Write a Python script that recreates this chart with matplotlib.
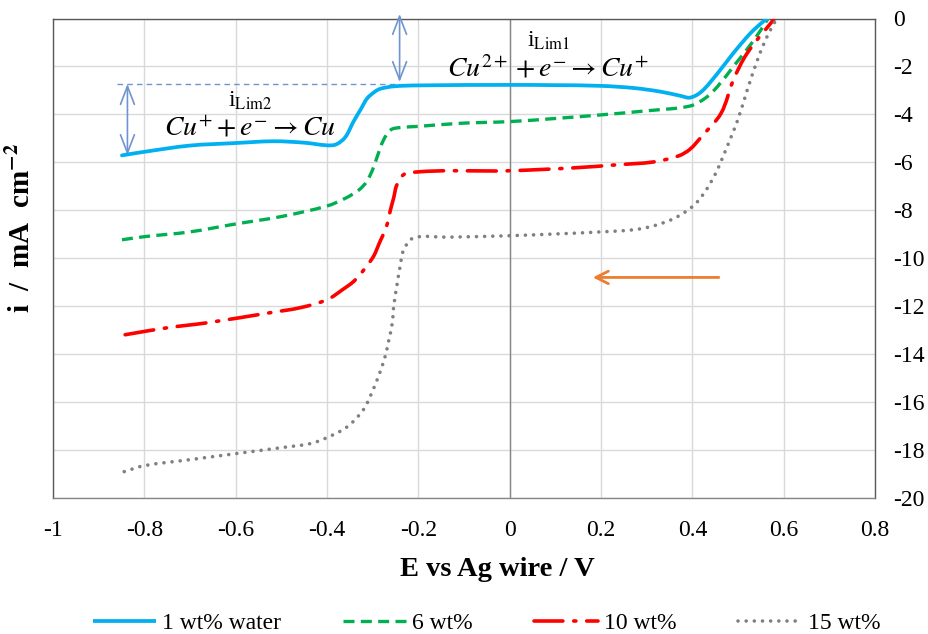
import matplotlib
matplotlib.use("Agg")
import matplotlib.pyplot as plt
import numpy as np
from matplotlib.path import Path
from matplotlib.patches import PathPatch
from matplotlib.lines import Line2D

plt.rcParams['font.family'] = ['Liberation Serif', 'DejaVu Serif']
plt.rcParams['mathtext.fontset'] = 'stix'
plt.rcParams['axes.unicode_minus'] = False

# ---- data ----
labels = ["1 wt% water", "6 wt%", "10 wt%", "15 wt%"]

x_1 = [-0.849, -0.80, -0.70, -0.605, -0.517, -0.45, -0.40, -0.38, -0.36, -0.342, -0.325,
       -0.312, -0.295, -0.283, -0.254, -0.20, 0.0, 0.10, 0.20, 0.272, 0.33, 0.375, 0.395,
       0.42, 0.456, 0.49, 0.528, 0.557, 0.566]
y_1 = [-5.71, -5.56, -5.30, -5.20, -5.12, -5.18, -5.29, -5.25, -4.95, -4.30, -3.75,
       -3.33, -3.05, -2.93, -2.83, -2.79, -2.77, -2.78, -2.81, -2.90, -3.05, -3.23, -3.30,
       -3.05, -2.27, -1.44, -0.60, -0.10, 0.0]

x_6 = [-0.849, -0.80, -0.70, -0.60, -0.50, -0.40, -0.36, -0.33, -0.313, -0.30,
       -0.29, -0.276, -0.26, -0.24, -0.20, -0.107, 0.0, 0.10, 0.20, 0.30, 0.395, 0.43,
       0.455, 0.49, 0.535, 0.566]
y_6 = [-9.23, -9.10, -8.90, -8.57, -8.26, -7.82, -7.50, -7.15, -6.80, -6.30,
       -5.76, -5.06, -4.64, -4.55, -4.50, -4.37, -4.30, -4.17, -4.02, -3.85, -3.65, -3.30,
       -2.84, -2.00, -0.90, 0.0]

x_10 = [-0.842, -0.75, -0.662, -0.524, -0.458, -0.40, -0.366, -0.338, -0.30, -0.285,
        -0.27, -0.261, -0.254, -0.246, -0.224, 0.0, 0.14, 0.236, 0.316, 0.37, 0.395,
        0.42, 0.463, 0.49, 0.52, 0.58]
y_10 = [-13.19, -12.90, -12.69, -12.27, -12.06, -11.73, -11.31, -10.90, -9.98, -9.35,
        -8.69, -7.98, -7.48, -6.90, -6.44, -6.35, -6.23, -6.10, -5.98, -5.73, -5.45,
        -4.93, -3.95, -2.56, -1.45, 0.0]

x_15 = [-0.844, -0.80, -0.70, -0.60, -0.50, -0.436, -0.40, -0.355, -0.32, -0.304, -0.294,
        -0.283, -0.272, -0.265, -0.257, -0.254, -0.246, -0.24, -0.232, -0.21, -0.136, 0.0,
        0.20, 0.287, 0.353, 0.40, 0.425, 0.45, 0.475, 0.50, 0.52, 0.545, 0.565, 0.585]
y_15 = [-18.90, -18.65, -18.40, -18.15, -17.90, -17.73, -17.48, -17.02, -16.31, -15.70, -15.25,
        -14.70, -14.05, -13.45, -12.70, -12.02, -11.02, -10.35, -9.65, -9.15, -9.12, -9.06,
        -8.90, -8.77, -8.40, -7.85, -7.30, -6.50, -5.40, -4.20, -3.00, -1.60, -0.70, 0.0]

x_ticks = [-1, -0.8, -0.6, -0.4, -0.2, 0, 0.2, 0.4, 0.6, 0.8]
x_ticklabels = ["-1", "-0.8", "-0.6", "-0.4", "-0.2", "0", "0.2", "0.4", "0.6", "0.8"]
y_ticks = [0, -2, -4, -6, -8, -10, -12, -14, -16, -18, -20]

# annotation values
ilim_level = -2.73      # dashed reference level
ilim2_bottom = -5.7
ilim1_top = 0.19
sweep_from, sweep_to, sweep_y = 0.458, 0.182, -10.8

# ---- figure ----
W, H = 929, 634
fig = plt.figure(figsize=(W / 100, H / 100), dpi=100)
ax = fig.add_axes([53 / W, 1 - 498 / H, (875 - 53) / W, (498 - 18.5) / H])
ax.set_xlim(-1, 0.8)
ax.set_ylim(-20, 0)

ax.set_xticks(x_ticks)
ax.set_xticklabels(x_ticklabels)
ax.set_yticks(y_ticks)
ax.yaxis.tick_right()
ax.tick_params(axis='both', length=0, labelsize=17, colors='black')
ax.tick_params(axis='y', pad=13)
ax.tick_params(axis='x', pad=16)
ax.grid(True, color='#d9d9d9', linewidth=1.0)
ax.set_axisbelow(True)
for s in ['left', 'right', 'top']:
    ax.spines[s].set_color('#595959')
    ax.spines[s].set_linewidth(1.0)
ax.spines['bottom'].set_color('#868686')
ax.spines['bottom'].set_linewidth(1.0)
ax.axvline(0, color='#868686', linewidth=1.0, zorder=1)


def smooth_path(x, y, sx=456.0, sy=24.0):
    """Smoothed (Bezier) path through the given points, like a spreadsheet's smoothed line."""
    P = np.column_stack([np.asarray(x, float) * sx, np.asarray(y, float) * sy])
    n = len(P)
    T = np.zeros_like(P)
    for i in range(n):
        if i == 0:
            d = P[1] - P[0]
        elif i == n - 1:
            d = P[-1] - P[-2]
        else:
            d = P[i + 1] - P[i - 1]
        T[i] = d / (np.hypot(*d) + 1e-12)
    verts = [P[0]]
    codes = [Path.MOVETO]
    for i in range(n - 1):
        L = np.hypot(*(P[i + 1] - P[i]))
        verts += [P[i] + T[i] * L / 3, P[i + 1] - T[i + 1] * L / 3, P[i + 1]]
        codes += [Path.CURVE4] * 3
    V = np.array(verts)
    V[:, 0] /= sx
    V[:, 1] /= sy
    return Path(V, codes)


styles = [
    dict(color='#00b0f0', lw=2.7, ls='-', cap='round'),
    dict(color='#00b050', lw=2.4, ls=(0, (3.3, 1.9)), cap='butt'),
    dict(color='#ff0000', lw=2.6, ls=(0, (8, 3, 0.6, 3)), cap='round'),
    dict(color='#808080', lw=2.6, ls=(0, (0.01, 2.25)), cap='round'),
]
series = [(x_1, y_1), (x_6, y_6), (x_10, y_10), (x_15, y_15)]
handles = []
for (xs, ys), st, lab, z in zip(series, styles, labels, [5, 4, 4, 4]):
    patch = PathPatch(smooth_path(xs, ys), fill=False, edgecolor=st['color'],
                      linewidth=st['lw'], linestyle=st['ls'], capstyle=st['cap'],
                      joinstyle='round', zorder=z)
    ax.add_patch(patch)
    handles.append(Line2D([], [], color=st['color'], linewidth=st['lw'],
                          linestyle=st['ls'], dash_capstyle=st['cap'],
                          solid_capstyle='butt', label=lab))

# annotations
acol = '#6f94d0'
ax.plot([-0.86, -0.246], [ilim_level, ilim_level], color=acol, linewidth=1.0,
        linestyle=(0, (4, 3)), zorder=3)
ax.annotate('', xy=(-0.837, ilim_level), xytext=(-0.837, ilim2_bottom),
            arrowprops=dict(arrowstyle='<->,head_length=1.3,head_width=0.5',
                            color=acol, lw=1.2, shrinkA=0, shrinkB=0))
ax.annotate('', xy=(-0.241, ilim1_top), xytext=(-0.241, ilim_level + 0.08),
            arrowprops=dict(arrowstyle='<->,head_length=1.3,head_width=0.5',
                            color=acol, lw=1.2, shrinkA=0, shrinkB=0),
            annotation_clip=False)
ax.annotate('', xy=(sweep_to, sweep_y), xytext=(sweep_from, sweep_y),
            arrowprops=dict(arrowstyle='->,head_length=0.9,head_width=0.45',
                            color='#ed7d31', lw=2.0, shrinkA=0, shrinkB=0))

ax.text(0.085, -0.95, r'i$_{\mathrm{Lim1}}$', fontsize=17, ha='center', va='center')
ax.text(0.085, -2.1, r'$Cu^{2+}+e^{-}\rightarrow Cu^{+}$', fontsize=20, ha='center', va='center')
ax.text(-0.568, -3.45, r'i$_{\mathrm{Lim2}}$', fontsize=17, ha='center', va='center')
ax.text(-0.568, -4.6, r'$Cu^{+}+e^{-}\rightarrow Cu$', fontsize=20, ha='center', va='center')

fig.text(497 / W, 1 - 569 / H, 'E vs Ag wire / V', fontsize=20.5, fontweight='bold',
         ha='center', va='center')
fig.text(22 / W, 1 - 228 / H, r'i  /  mA  cm$^{\mathbf{-2}}$', fontsize=21, fontweight='bold',
         ha='center', va='center', rotation=90)

fig.legend(handles, labels, loc='center', bbox_to_anchor=(0.5235, 1 - 623 / H),
           ncol=4, frameon=False, fontsize=17, handlelength=2.7, handletextpad=0.25,
           columnspacing=2.6)

fig.savefig('out.png', dpi=100)
